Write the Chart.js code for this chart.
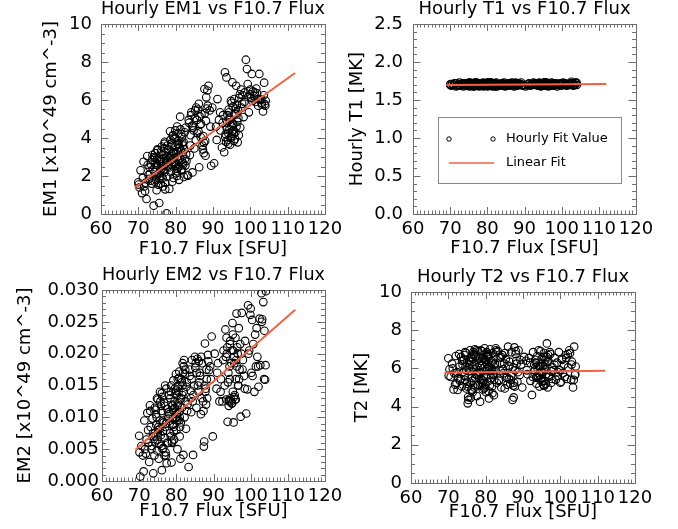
<!DOCTYPE html>
<html>
<head>
<meta charset="utf-8">
<script src="https://cdn.jsdelivr.net/npm/chart.js@4.4.1/dist/chart.umd.min.js"></script>
<style>
  html, body { margin: 0; padding: 0; background: #fff; }
  #wrap { position: relative; width: 678px; height: 529px; }
  #wrap canvas { position: absolute; left: 0; top: 0; }
</style>
</head>
<body>
<div id="wrap">
  <canvas id="em1" width="678" height="529"></canvas>
  <canvas id="t1" width="678" height="529"></canvas>
  <canvas id="em2" width="678" height="529"></canvas>
  <canvas id="t2" width="678" height="529"></canvas>
</div>
<script>
// hourly F10.7 flux (SFU), shared by all four panels
var flux = [
  70.0, 70.3, 70.1, 71.2, 71.6, 72.2, 72.5, 72.9, 73.1, 73.4, 73.8, 73.6, 74.1, 73.9, 72.7, 71.8,
  74.3, 74.5, 74.8, 75.0, 75.2, 75.4, 75.6, 75.8, 76.0, 76.1, 76.3, 76.5, 76.7, 76.9, 77.0, 77.2, 77.4, 77.6, 77.8, 78.0,
  74.6, 75.3, 75.9, 76.4, 77.1, 77.7, 74.9, 75.5, 76.2, 76.8,
  78.1, 78.3, 78.5, 78.7, 78.9, 79.0, 79.2, 79.4, 79.5, 79.7, 79.9, 80.0, 80.1, 80.3, 80.4, 80.6, 80.8, 80.9, 81.0, 81.2,
  81.4, 81.5, 81.7, 81.9, 82.0, 82.2, 82.4, 82.6, 82.8, 83.0, 78.4, 78.8, 79.1, 79.6, 80.2, 80.7, 81.1, 81.6, 82.1, 82.7, 79.3, 80.5,
  83.3, 83.6, 83.9, 84.2, 84.5, 84.8, 85.1, 85.4, 85.7, 86.0, 86.3, 86.6, 86.9, 87.2, 87.5, 87.7, 87.9, 88.2, 88.5, 88.8,
  89.1, 89.5, 89.8, 90.3, 84.0, 85.0, 86.2, 87.4, 88.0, 83.8,
  90.8, 91.2, 91.6, 92.0, 92.4, 92.7, 93.0,
  93.2, 93.4, 93.6, 93.8, 94.0, 94.2, 94.4, 94.6, 94.8, 95.0, 95.2, 95.4, 95.6, 95.8, 96.0, 96.2, 96.4, 96.6, 96.8, 97.0,
  97.3, 97.6, 97.9, 98.2, 98.5, 98.8, 93.9, 94.5, 95.1, 95.7, 96.3, 94.1, 95.3,
  99.1, 99.3, 99.6, 99.9, 100.2, 100.4, 100.7, 101.0, 101.4, 101.8, 102.1, 102.4, 102.9, 103.1, 103.4, 103.7, 103.9, 104.1, 100.0, 102.6,
  70.6, 71.0, 71.4, 72.0, 72.4, 73.0, 73.3, 73.7,
  74.2, 74.4, 74.7, 75.1, 75.7, 76.0, 76.6, 77.3, 77.5, 77.9, 74.8, 75.6, 76.3, 76.9, 77.2, 77.8, 75.0, 76.1, 77.0, 74.5,
  78.2, 78.6, 79.0, 79.3, 79.8, 80.1, 80.4, 80.8, 81.3, 81.7, 82.3, 82.9, 78.5, 79.5, 80.0, 80.6, 81.0, 81.8, 82.5, 79.1,
  80.3, 81.5, 78.9, 79.9, 80.9, 82.0,
  83.5, 84.1, 84.6, 85.2, 85.8, 86.4, 86.8, 87.3, 87.6, 88.1, 88.6, 89.3, 85.5, 86.1, 87.8, 84.4, 86.7, 88.3,
  91.0, 91.9, 92.6,
  93.3, 93.7, 94.1, 94.3, 94.7, 95.0, 95.5, 95.9, 96.1, 96.5, 96.9, 97.2, 97.8, 98.4, 94.9, 95.6, 96.7, 93.5, 94.4, 95.2,
  96.0, 97.5,
  99.4, 100.5, 101.2, 102.0, 103.0, 103.6, 104.0, 101.6
];

var em1 = [
  1.67, 1.40, 1.55, 1.90, 1.45, 0.79, 2.58, 1.85, 2.10, 2.60, 3.10, 1.60, 0.44, 2.35, 2.05, 1.20,
  2.20, 3.20, 1.80, 2.60, 3.35, 2.10, 0.58, 2.90, 1.60, 3.30, 2.40, 1.90, 2.75, 3.45, 2.20, 1.30, 2.95, 0.04, 3.60, 2.50,
  2.70, 1.55, 2.30, 3.10, 3.80, 1.95, 1.25, 2.85, 2.00, 2.55,
  3.40, 1.32, 4.35, 2.20, 3.70, 2.60, 4.10, 1.90, 3.20, 2.75, 4.40, 3.55, 2.15, 3.00, 4.60, 2.45, 3.85, 1.80, 2.90, 5.12,
  3.35, 2.30, 4.05, 2.70, 3.60, 1.95, 4.30, 2.55, 3.15, 2.05, 2.95, 3.05, 1.70, 3.95, 2.40, 4.25, 3.50, 2.85, 3.80, 4.55, 3.25, 3.70,
  2.02, 4.80, 3.60, 5.35, 2.19, 4.40, 5.05, 3.90, 4.95, 5.50, 2.46, 4.70, 5.25, 3.60, 3.20, 6.58, 3.85, 6.14, 6.50, 6.75,
  5.45, 2.54, 5.60, 2.67, 4.15, 3.45, 5.80, 4.10, 3.07, 3.10,
  4.60, 6.05, 4.95, 4.40, 3.50, 5.20, 3.25,
  7.46, 4.20, 7.19, 4.80, 3.90, 5.50, 4.45, 3.65, 5.95, 4.10, 6.93, 4.70, 3.85, 5.30, 4.30, 6.75, 5.75, 3.77, 5.05, 6.10,
  4.55, 5.60, 6.25, 5.10, 6.40, 8.12, 5.20, 4.95, 4.35, 6.05, 4.60, 3.70, 5.65,
  7.63, 6.84, 5.35, 6.30, 6.10, 7.37, 6.45, 6.20, 5.90, 6.35, 5.70, 7.37, 6.05, 5.75, 5.40, 6.91, 5.79, 5.96, 6.55, 6.00,
  2.30, 1.10, 2.75, 1.65, 3.05, 2.45, 1.75, 2.85,
  3.00, 1.70, 2.45, 3.40, 2.15, 2.80, 1.45, 3.25, 2.65, 3.05, 2.00, 1.85, 3.55, 2.35, 1.65, 2.75, 2.90, 2.60, 3.70, 2.95,
  2.45, 3.90, 2.85, 4.15, 2.55, 3.20, 2.00, 3.65, 4.45, 2.35, 3.40, 2.80, 3.05, 2.65, 4.00, 3.30, 2.50, 3.75, 2.90, 3.60,
  2.25, 4.20, 3.15, 2.70, 3.45, 2.60,
  4.95, 5.20, 4.55, 5.45, 4.25, 5.15, 4.75, 3.40, 3.75, 4.90, 5.70, 4.60, 5.60, 4.35, 5.30, 4.65, 4.05, 5.55,
  3.90, 5.35, 4.80,
  4.05, 4.50, 4.25, 5.35, 4.00, 5.85, 4.40, 3.95, 5.55, 4.85, 4.15, 6.30, 5.80, 5.90, 4.65, 4.20, 5.45, 3.80, 5.05, 4.75,
  5.25, 6.55,
  6.15, 5.95, 6.40, 6.05, 5.85, 6.25, 5.70, 6.60
];

var t1 = [
  1.70, 1.69, 1.71, 1.72, 1.68, 1.70, 1.73, 1.69, 1.71, 1.70, 1.72, 1.68, 1.70, 1.71, 1.69, 1.72,
  1.71, 1.69, 1.72, 1.70, 1.68, 1.73, 1.70, 1.71, 1.69, 1.72, 1.70, 1.68, 1.71, 1.73, 1.69, 1.70, 1.72, 1.71, 1.68, 1.70,
  1.69, 1.72, 1.71, 1.70, 1.73, 1.69, 1.70, 1.72, 1.68, 1.71,
  1.70, 1.72, 1.69, 1.71, 1.73, 1.68, 1.70, 1.72, 1.71, 1.69, 1.70, 1.73, 1.68, 1.71, 1.72, 1.70, 1.69, 1.71, 1.73, 1.70,
  1.68, 1.72, 1.71, 1.69, 1.70, 1.72, 1.73, 1.68, 1.71, 1.70, 1.69, 1.72, 1.70, 1.71, 1.73, 1.69, 1.70, 1.72, 1.68, 1.71, 1.70, 1.72,
  1.71, 1.69, 1.72, 1.70, 1.73, 1.68, 1.71, 1.70, 1.72, 1.69, 1.71, 1.73, 1.70, 1.68, 1.72, 1.71, 1.69, 1.70, 1.72, 1.71,
  1.73, 1.69, 1.70, 1.68, 1.72, 1.71, 1.70, 1.69, 1.72, 1.71,
  1.70, 1.72, 1.69, 1.71, 1.73, 1.70, 1.71,
  1.72, 1.70, 1.69, 1.71, 1.73, 1.70, 1.68, 1.72, 1.71, 1.69, 1.70, 1.73, 1.71, 1.72, 1.69, 1.70, 1.68, 1.71, 1.72, 1.70,
  1.73, 1.69, 1.71, 1.70, 1.72, 1.68, 1.71, 1.70, 1.72, 1.69, 1.71, 1.70, 1.73,
  1.71, 1.70, 1.72, 1.69, 1.71, 1.73, 1.70, 1.72, 1.69, 1.71, 1.70, 1.72, 1.71, 1.69, 1.70, 1.73, 1.72, 1.70, 1.71, 1.74,
  1.71, 1.70, 1.72, 1.69, 1.70, 1.71, 1.72, 1.70,
  1.70, 1.71, 1.69, 1.72, 1.70, 1.71, 1.73, 1.69, 1.70, 1.72, 1.71, 1.70, 1.69, 1.72, 1.71, 1.70, 1.73, 1.70, 1.71, 1.69,
  1.71, 1.70, 1.72, 1.69, 1.70, 1.71, 1.73, 1.70, 1.72, 1.69, 1.71, 1.70, 1.72, 1.71, 1.69, 1.70, 1.73, 1.71, 1.70, 1.72,
  1.69, 1.71, 1.70, 1.72, 1.71, 1.70,
  1.70, 1.72, 1.71, 1.69, 1.70, 1.72, 1.71, 1.70, 1.73, 1.69, 1.71, 1.70, 1.72, 1.71, 1.70, 1.69, 1.72, 1.71,
  1.71, 1.70, 1.72,
  1.70, 1.71, 1.72, 1.69, 1.70, 1.71, 1.73, 1.70, 1.72, 1.71, 1.69, 1.70, 1.72, 1.71, 1.70, 1.69, 1.71, 1.72, 1.70, 1.71,
  1.73, 1.70,
  1.71, 1.72, 1.70, 1.71, 1.72, 1.70, 1.73, 1.71
];

var em2 = [
  0.0071, 0.0007, 0.0045, 0.0015, 0.0050, 0.0107, 0.0060, 0.0119, 0.0085, 0.0055, 0.0012, 0.0098, 0.0040, 0.0070, 0.0030, 0.0043,
  0.0062, 0.0105, 0.0048, 0.0128, 0.0085, 0.0058, 0.0140, 0.0072, 0.0110, 0.0017, 0.0095, 0.0052, 0.0123, 0.0068, 0.0150, 0.0090, 0.0028, 0.0113, 0.0060, 0.0135,
  0.0088, 0.0035, 0.0118, 0.0078, 0.0045, 0.0102, 0.0065, 0.0095, 0.0132, 0.0040,
  0.0105, 0.0075, 0.0140, 0.0029, 0.0118, 0.0088, 0.0158, 0.0065, 0.0125, 0.0098, 0.0168, 0.0080, 0.0135, 0.0050, 0.0148, 0.0108, 0.0172, 0.0070, 0.0128, 0.0092,
  0.0160, 0.0115, 0.0185, 0.0041, 0.0140, 0.0100, 0.0175, 0.0082, 0.0155, 0.0120, 0.0130, 0.0060, 0.0112, 0.0145, 0.0095, 0.0162, 0.0035, 0.0135, 0.0190, 0.0148, 0.0078, 0.0122,
  0.0022, 0.0165, 0.0130, 0.0190, 0.0041, 0.0150, 0.0178, 0.0115, 0.0192, 0.0140, 0.0170, 0.0105, 0.0185, 0.0125, 0.0062, 0.0216, 0.0145, 0.0160, 0.0198, 0.0174,
  0.0180, 0.0227, 0.0070, 0.0200, 0.0108, 0.0195, 0.0155, 0.0054, 0.0120, 0.0142,
  0.0145, 0.0185, 0.0125, 0.0160, 0.0125, 0.0205, 0.0150,
  0.0238, 0.0128, 0.0200, 0.0093, 0.0170, 0.0125, 0.0215, 0.0130, 0.0185, 0.0122, 0.0230, 0.0092, 0.0195, 0.0128, 0.0160, 0.0263, 0.0210, 0.0150, 0.0240, 0.0175,
  0.0101, 0.0264, 0.0190, 0.0165, 0.0220, 0.0106, 0.0155, 0.0220, 0.0248, 0.0135, 0.0180, 0.0118, 0.0205,
  0.0144, 0.0276, 0.0205, 0.0261, 0.0170, 0.0253, 0.0215, 0.0140, 0.0180, 0.0195, 0.0148, 0.0255, 0.0295, 0.0254, 0.0281, 0.0236, 0.0159, 0.0298, 0.0271, 0.0182,
  0.0055, 0.0040, 0.0095, 0.0065, 0.0080, 0.0110, 0.0050, 0.0075,
  0.0115, 0.0070, 0.0100, 0.0080, 0.0125, 0.0055, 0.0092, 0.0145, 0.0060, 0.0108, 0.0130, 0.0082, 0.0050, 0.0118, 0.0040, 0.0098, 0.0075, 0.0138, 0.0085, 0.0112,
  0.0090, 0.0150, 0.0120, 0.0085, 0.0138, 0.0105, 0.0160, 0.0095, 0.0130, 0.0150, 0.0168, 0.0110, 0.0070, 0.0115, 0.0100, 0.0140, 0.0085, 0.0170, 0.0125, 0.0098,
  0.0118, 0.0155, 0.0062, 0.0142, 0.0100, 0.0180,
  0.0175, 0.0160, 0.0135, 0.0185, 0.0150, 0.0165, 0.0130, 0.0110, 0.0150, 0.0175, 0.0188, 0.0160, 0.0170, 0.0188, 0.0140, 0.0125, 0.0195, 0.0130,
  0.0170, 0.0140, 0.0190,
  0.0195, 0.0210, 0.0127, 0.0180, 0.0125, 0.0205, 0.0132, 0.0225, 0.0190, 0.0200, 0.0160, 0.0215, 0.0175, 0.0145, 0.0122, 0.0185, 0.0150, 0.0225, 0.0160, 0.0140,
  0.0128, 0.0200,
  0.0200, 0.0165, 0.0230, 0.0180, 0.0250, 0.0160, 0.0182, 0.0240
];

var t2 = [
  6.53, 5.95, 5.62, 6.00, 5.74, 5.22, 4.87, 6.75, 5.35, 6.60, 6.20, 5.05, 6.45, 5.80, 5.50, 5.15,
  5.60, 6.70, 4.95, 6.30, 4.17, 4.35, 5.85, 6.95, 5.25, 6.55, 5.50, 4.75, 6.85, 5.95, 6.20, 5.10, 6.60, 4.55, 5.75, 6.90,
  6.10, 4.50, 6.40, 5.35, 7.00, 5.65, 5.20, 6.05, 4.90, 6.75,
  5.80, 6.50, 4.26, 6.95, 5.40, 6.20, 4.90, 6.70, 5.60, 7.05, 5.15, 6.35, 4.75, 6.85, 5.95, 5.30, 6.60, 4.43, 6.10, 7.00,
  5.50, 6.40, 5.05, 6.80, 5.70, 4.60, 6.25, 5.90, 6.95, 5.25, 6.15, 5.45, 6.55, 4.95, 5.85, 6.75, 5.10, 6.30, 5.65, 7.05, 5.35, 6.00,
  6.90, 5.40, 6.30, 5.00, 6.70, 5.75, 4.95, 6.50, 5.55, 7.14, 6.10, 5.20, 6.85, 4.35, 4.48, 7.10, 5.90, 6.40, 5.30, 6.95,
  5.65, 6.20, 5.00, 6.60, 5.85, 6.25, 5.45, 5.10, 6.75, 6.55,
  6.40, 5.70, 6.55, 5.35, 4.61, 6.85, 6.20,
  5.90, 6.30, 5.20, 6.65, 5.60, 6.95, 5.05, 6.10, 5.45, 6.50, 5.80, 5.15, 6.80, 5.35, 6.20, 5.70, 7.31, 5.00, 6.40, 5.55,
  6.75, 5.25, 6.05, 5.90, 6.55, 5.40, 6.00, 5.65, 6.25, 5.10, 6.60, 5.50, 6.15,
  6.30, 5.60, 6.85, 5.90, 5.30, 6.50, 5.75, 6.20, 6.70, 5.45, 6.05, 6.95, 5.40, 6.35, 5.00, 7.14, 5.65, 6.10, 5.25, 6.80,
  5.55, 6.25, 4.90, 6.65, 5.80, 6.10, 5.45, 6.40,
  6.45, 5.40, 6.80, 5.05, 6.15, 4.45, 6.50, 5.70, 6.95, 5.15, 5.90, 6.35, 4.85, 6.70, 5.50, 6.05, 5.30, 6.60, 5.00, 6.85,
  6.30, 5.75, 6.90, 5.20, 6.45, 5.55, 6.65, 4.80, 6.15, 5.95, 5.40, 6.85, 5.10, 6.50, 5.60, 6.70, 5.90, 4.70, 6.20, 5.25,
  6.60, 5.85, 6.40, 5.00, 6.05, 5.70,
  5.35, 6.60, 5.95, 6.80, 5.15, 6.35, 5.60, 6.05, 5.25, 6.90, 5.80, 6.45, 5.50, 6.15, 5.05, 6.70, 5.40, 6.25,
  5.90, 6.30, 5.55,
  6.45, 5.50, 6.15, 5.75, 6.90, 5.30, 6.60, 5.95, 5.20, 6.35, 5.65, 6.85, 5.45, 6.20, 5.80, 5.10, 6.70, 5.55, 6.05, 5.35,
  6.45, 5.85,
  5.80, 6.45, 5.55, 6.75, 6.20, 5.40, 5.70, 6.55
];

// linear fit end points
var fitX = [69, 112];
var em1Fit = [1.38, 7.42];
var t1Fit = [1.698, 1.711];
var em2Fit = [0.0049, 0.0269];
var t2Fit = [5.77, 5.88];

var FONT = 'DejaVu Sans';
var fitColor = '#f6603f';
var frameColor = '#6e6e6e';

// IDL style box with inward major / minor ticks on all four sides
var idlFrame = {
  id: 'idlFrame',
  beforeDatasetsDraw: function (chart, args, o) {
    var a = chart.chartArea, ctx = chart.ctx;
    var xs = chart.scales.x, ys = chart.scales.y;
    ctx.save();
    ctx.strokeStyle = frameColor;
    ctx.lineWidth = 1;
    ctx.strokeRect(Math.round(a.left) + 0.5, Math.round(a.top) + 0.5,
                   Math.round(a.right - a.left), Math.round(a.bottom - a.top));
    ctx.beginPath();
    var n = Math.round((xs.max - xs.min) / o.xMinor), i, p, len;
    for (i = 1; i < n; i++) {
      p = Math.round(xs.getPixelForValue(xs.min + i * o.xMinor)) + 0.5;
      len = (i % o.xRatio === 0) ? 7 : 3.5;
      ctx.moveTo(p, a.bottom); ctx.lineTo(p, a.bottom - len);
      ctx.moveTo(p, a.top); ctx.lineTo(p, a.top + len);
    }
    n = Math.round((ys.max - ys.min) / o.yMinor);
    for (i = 1; i < n; i++) {
      p = Math.round(ys.getPixelForValue(ys.min + i * o.yMinor)) + 0.5;
      len = (i % o.yRatio === 0) ? 7.5 : 4;
      ctx.moveTo(a.left, p); ctx.lineTo(a.left + len, p);
      ctx.moveTo(a.right, p); ctx.lineTo(a.right - len, p);
    }
    ctx.stroke();
    ctx.restore();
  }
};

// legend box used on the T1 panel
var idlLegend = {
  id: 'idlLegend',
  afterDraw: function (chart, args, o) {
    if (!o.show) return;
    var a = chart.chartArea, ctx = chart.ctx;
    var x0 = a.left + 25, y0 = a.top + 93;
    ctx.save();
    ctx.fillStyle = '#fff';
    ctx.fillRect(x0, y0, 183, 66);
    ctx.strokeStyle = '#888';
    ctx.lineWidth = 1;
    ctx.strokeRect(x0 + 0.5, y0 + 0.5, 183, 66);
    ctx.strokeStyle = '#000';
    [x0 + 11, x0 + 55].forEach(function (cx) {
      ctx.beginPath();
      ctx.arc(cx, y0 + 22, 2.2, 0, Math.PI * 2);
      ctx.stroke();
    });
    ctx.strokeStyle = fitColor;
    ctx.lineWidth = 1.5;
    ctx.beginPath();
    ctx.moveTo(x0 + 11, y0 + 46); ctx.lineTo(x0 + 56, y0 + 46);
    ctx.stroke();
    ctx.fillStyle = '#000';
    ctx.font = '13px "' + FONT + '"';
    ctx.textBaseline = 'middle';
    ctx.fillText('Hourly Fit Value', x0 + 68, y0 + 22);
    ctx.fillText('Linear Fit', x0 + 68, y0 + 46);
    ctx.restore();
  }
};

function panel(id, c) {
  var pts = flux.map(function (x, i) { return { x: x, y: c.y[i] }; });
  var fit = fitX.map(function (x, i) { return { x: x, y: c.fit[i] }; });
  var font = { family: FONT, size: 18, lineHeight: 1, weight: 'normal' };
  return new Chart(document.getElementById(id), {
    type: 'scatter',
    data: {
      datasets: [
        { type: 'line', label: 'Linear Fit', data: fit, borderColor: fitColor, borderWidth: 2,
          pointRadius: 0, fill: false },
        { label: 'Hourly Fit Value', data: pts, pointRadius: 3.8, pointBorderWidth: 1.1,
          borderColor: '#000', backgroundColor: 'rgba(0,0,0,0)', pointBackgroundColor: 'rgba(0,0,0,0)' }
      ]
    },
    options: {
      responsive: false,
      animation: false,
      events: [],
      layout: { autoPadding: false, padding: c.pad },
      plugins: {
        legend: { display: false },
        tooltip: { enabled: false },
        title: { display: true, text: c.title, color: '#000', font: font, fullSize: false,
                 padding: { top: 0, bottom: c.titleGap } },
        idlFrame: { xMinor: 1, xRatio: 10, yMinor: c.yMinor, yRatio: c.yRatio },
        idlLegend: { show: !!c.legend }
      },
      scales: {
        x: {
          type: 'linear', min: 60, max: 120,
          afterFit: function (s) { s.height = c.xH; },
          grid: { display: false, drawTicks: false },
          border: { display: false },
          ticks: { stepSize: 10, autoSkip: false, maxRotation: 0, padding: 6, color: '#000', font: font },
          title: { display: true, text: 'F10.7 Flux [SFU]', color: '#000', font: font, padding: 0 }
        },
        y: {
          type: 'linear', min: c.yMin, max: c.yMax,
          afterFit: function (s) { s.width = c.yW; },
          grid: { display: false, drawTicks: false },
          border: { display: false },
          ticks: { stepSize: c.yStep, autoSkip: false, padding: c.yPad, color: '#000', font: font,
                   callback: c.fmt },
          title: { display: true, text: c.yTitle, color: '#000', font: font, padding: 0 }
        }
      }
    },
    plugins: [idlFrame, idlLegend]
  });
}

panel('em1', {
  title: 'Hourly EM1 vs F10.7 Flux', yTitle: 'EM1 [x10^49 cm^-3]',
  y: em1, fit: em1Fit, yMin: 0, yMax: 10, yStep: 2, yMinor: 0.5, yRatio: 4,
  fmt: function (v) { return String(Math.round(v)); },
  pad: { left: 42, right: 353, top: 0, bottom: 271 }, titleGap: 6, xH: 44, yW: 59, yPad: 9
});
panel('t1', {
  title: 'Hourly T1 vs F10.7 Flux', yTitle: 'Hourly T1 [MK]',
  y: t1, fit: t1Fit, yMin: 0, yMax: 2.5, yStep: 0.5, yMinor: 0.1, yRatio: 5,
  fmt: function (v) { return v.toFixed(1); }, legend: true,
  pad: { left: 348, right: 42, top: 0, bottom: 272 }, titleGap: 6, xH: 43, yW: 65, yPad: 10
});
panel('em2', {
  title: 'Hourly EM2 vs F10.7 Flux', yTitle: 'EM2 [x10^49 cm^-3]',
  y: em2, fit: em2Fit, yMin: 0, yMax: 0.03, yStep: 0.005, yMinor: 0.001, yRatio: 5,
  fmt: function (v) { return v.toFixed(3); },
  pad: { left: 16, right: 353, top: 266.5, bottom: 9 }, titleGap: 5.5, xH: 39, yW: 86, yPad: 3
});
panel('t2', {
  title: 'Hourly T2 vs F10.7 Flux', yTitle: 'T2 [MK]',
  y: t2, fit: t2Fit, yMin: 0, yMax: 10, yStep: 2, yMinor: 0.5, yRatio: 4,
  fmt: function (v) { return String(Math.round(v)); },
  pad: { left: 353, right: 43, top: 268.5, bottom: 7.5 }, titleGap: 5.5, xH: 38.5, yW: 58, yPad: 9
});
</script>
</body>
</html>
